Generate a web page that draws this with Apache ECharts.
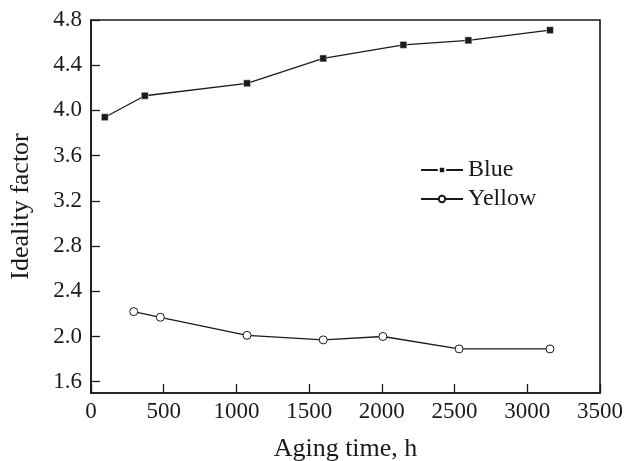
<!DOCTYPE html>
<html>
<head>
<meta charset="utf-8">
<script src="https://cdn.jsdelivr.net/npm/echarts@6/dist/echarts.min.js"></script>
<style>
  html, body { margin: 0; padding: 0; background: #fff; }
  #chart { width: 629px; height: 461px; }
</style>
</head>
<body>
<div id="chart"></div>
<script>
// Aging time (h) and ideality factor of the two LED types
const blueHours = [95, 370, 1073, 1597, 2148, 2595, 3156];
const blueIdeality = [3.94, 4.13, 4.24, 4.46, 4.58, 4.62, 4.71];
const yellowHours = [294, 477, 1073, 1597, 2007, 2531, 3156];
const yellowIdeality = [2.22, 2.17, 2.01, 1.97, 2.00, 1.89, 1.89];
const yTickValues = [1.6, 2.0, 2.4, 2.8, 3.2, 3.6, 4.0, 4.4, 4.8];

const FONT = 'Liberation Serif';
const INK = '#1a1a1a';

function pairs(xs, ys) {
  return xs.map((x, i) => [x, ys[i]]);
}

const chart = echarts.init(document.getElementById('chart'), null, { renderer: 'canvas' });

chart.setOption({
  animation: false,
  backgroundColor: '#fff',
  grid: {
    left: 91, right: 29, top: 20, bottom: 68,
    outerBoundsMode: 'none', containLabel: false,
    show: true, borderColor: INK, borderWidth: 1.6, backgroundColor: 'transparent'
  },
  legend: {
    orient: 'vertical',
    left: 420, top: 158, padding: 0,
    itemWidth: 42, itemHeight: 8, itemGap: 5,
    textStyle: { fontFamily: FONT, fontSize: 24, lineHeight: 22, color: INK },
    data: ['Blue', 'Yellow']
  },
  xAxis: {
    type: 'value', min: 0, max: 3500, interval: 500,
    name: 'Aging time, h', nameLocation: 'middle', nameGap: 43,
    nameTextStyle: { fontFamily: FONT, fontSize: 26, color: INK },
    axisLine: { lineStyle: { color: INK, width: 1.6 } },
    axisTick: { inside: true, length: 9, lineStyle: { color: INK, width: 1.3 } },
    axisLabel: { fontFamily: FONT, fontSize: 23, color: INK, margin: 7, formatter: v => String(v) },
    splitLine: { show: false }
  },
  yAxis: {
    type: 'value', min: 1.5, max: 4.8,
    name: 'Ideality factor', nameLocation: 'middle', nameGap: 57,
    nameTextStyle: { fontFamily: FONT, fontSize: 26, color: INK },
    axisLine: { show: true, lineStyle: { color: INK, width: 1.6 } },
    axisTick: { show: true, inside: true, length: 9, customValues: yTickValues, lineStyle: { color: INK, width: 1.3 } },
    axisLabel: {
      fontFamily: FONT, fontSize: 23, color: INK, margin: 9,
      customValues: yTickValues,
      formatter: v => v.toFixed(1)
    },
    splitLine: { show: false }
  },
  series: [
    {
      name: 'Blue', type: 'line',
      data: pairs(blueHours, blueIdeality),
      symbol: 'rect', symbolSize: 7,
      lineStyle: { color: INK, width: 1.3 },
      itemStyle: { color: INK, borderColor: '#fff', borderWidth: 0.5 }
    },
    {
      name: 'Yellow', type: 'line',
      data: pairs(yellowHours, yellowIdeality),
      symbol: 'circle', symbolSize: 8,
      lineStyle: { color: INK, width: 1.3 },
      itemStyle: { color: '#fff', borderColor: INK, borderWidth: 1 }
    }
  ]
});
</script>
</body>
</html>
